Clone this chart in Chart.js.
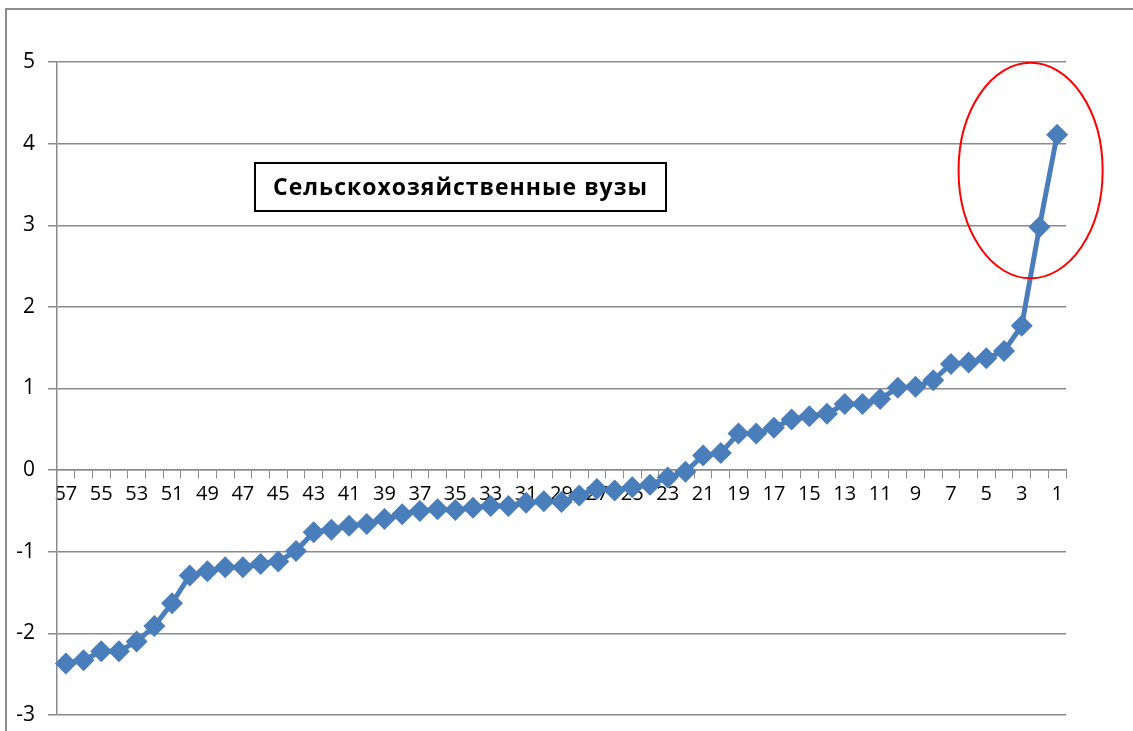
<!DOCTYPE html>
<html>
<head>
<meta charset="utf-8">
<script src="https://cdn.jsdelivr.net/npm/chart.js@4/dist/chart.umd.min.js"></script>
<style>
    html, body { margin: 0; padding: 0; background: #fff; }
    #wrap { width: 1133px; height: 731px; position: relative; }
</style>
</head>
<body>
<div id="wrap"><canvas id="chart"></canvas></div>
<script>
// categories run from 57 down to 1, as on the source chart
const categories = [
    "57", "56", "55", "54", "53", "52", "51", "50", "49", "48",
    "47", "46", "45", "44", "43", "42", "41", "40", "39", "38",
    "37", "36", "35", "34", "33", "32", "31", "30", "29", "28",
    "27", "26", "25", "24", "23", "22", "21", "20", "19", "18",
    "17", "16", "15", "14", "13", "12", "11", "10", "9", "8",
    "7", "6", "5", "4", "3", "2", "1"
];

const scores = [
    -2.37, -2.33, -2.22, -2.22, -2.10, -1.91, -1.63, -1.29, -1.24, -1.19,
    -1.19, -1.15, -1.12, -0.99, -0.76, -0.73, -0.68, -0.66, -0.60, -0.54,
    -0.50, -0.48, -0.49, -0.46, -0.44, -0.44, -0.40, -0.38, -0.39, -0.31,
    -0.23, -0.25, -0.21, -0.18, -0.09, -0.02, 0.18, 0.21, 0.45, 0.45,
    0.52, 0.62, 0.66, 0.69, 0.81, 0.81, 0.87, 1.01, 1.02, 1.10,
    1.30, 1.32, 1.37, 1.46, 1.77, 2.98, 4.11
];

const yTicks = [-3, -2, -1, 0, 1, 2, 3, 4, 5];

const boxTitle = "Сельскохозяйственные вузы";

// red ellipse around the two top points (category index / value units)
const highlight = { cx: 54.5, cy: 3.67, rx: 4.07, ry: 1.32 };

const lineColor = "#4A7EBB";
const gridColor = "#8a8a8a";

const decorPlugin = {
    id: "decor",
    beforeDraw(chart) {
        const ctx = chart.ctx;
        ctx.save();
        ctx.fillStyle = "#fff";
        ctx.fillRect(0, 0, chart.width, chart.height);
        // outer frame (only top and left edges are visible)
        ctx.strokeStyle = "#8c8c8c";
        ctx.lineWidth = 2;
        ctx.beginPath();
        ctx.moveTo(6, chart.height);
        ctx.lineTo(6, 9);
        ctx.lineTo(chart.width, 9);
        ctx.stroke();
        ctx.restore();
    },
    afterDatasetsDraw(chart) {
        const ctx = chart.ctx;
        const xs = chart.scales.x;
        const ys = chart.scales.y;

        // text box
        ctx.save();
        ctx.font = "bold 23px 'Open Sans', sans-serif";
        ctx.letterSpacing = "1px";
        const bx = 255, by = 163, bw = 411, bh = 48;
        ctx.fillStyle = "#fff";
        ctx.fillRect(bx, by, bw, bh);
        ctx.strokeStyle = "#000";
        ctx.lineWidth = 2;
        ctx.strokeRect(bx, by, bw, bh);
        ctx.fillStyle = "#000";
        ctx.textBaseline = "middle";
        ctx.textAlign = "center";
        ctx.fillText(boxTitle, bx + bw / 2, by + bh / 2 + 1);
        ctx.restore();

        // highlight ellipse
        const step = xs.getPixelForValue(1) - xs.getPixelForValue(0);
        const cx = xs.getPixelForValue(0) + step * highlight.cx;
        const cy = ys.getPixelForValue(highlight.cy);
        const rx = step * highlight.rx;
        const ry = Math.abs(ys.getPixelForValue(0) - ys.getPixelForValue(highlight.ry));
        ctx.save();
        ctx.strokeStyle = "#ff0000";
        ctx.lineWidth = 2;
        ctx.beginPath();
        ctx.ellipse(cx, cy, rx, ry, 0, 0, Math.PI * 2);
        ctx.stroke();
        ctx.restore();
    },
};

const ctx = document.getElementById("chart").getContext("2d");

new Chart(ctx, {
    type: "line",
    data: {
        labels: categories,
        datasets: [
            {
                data: scores,
                borderColor: lineColor,
                backgroundColor: lineColor,
                borderWidth: 5,
                pointStyle: "rectRot",
                pointRadius: 11,
                pointHoverRadius: 11,
                pointBorderWidth: 0,
                tension: 0,
                clip: false,
            },
        ],
    },
    options: {
        responsive: true,
        maintainAspectRatio: false,
        animation: false,
        layout: {
            padding: { left: 0, right: 67, top: 62, bottom: 16 },
        },
        plugins: {
            legend: { display: false },
            tooltip: { enabled: false },
        },
        scales: {
            x: {
                position: { y: 0 },
                offset: true,
                grid: {
                    offset: true,
                    drawOnChartArea: false,
                    drawTicks: true,
                    tickLength: 8,
                    color: gridColor,
                },
                border: { display: true, color: gridColor, width: 1.5 },
                ticks: {
                    autoSkip: false,
                    maxRotation: 0,
                    padding: 4,
                    color: "#000",
                    font: { family: "'Open Sans', sans-serif", size: 20 },
                    callback: function (value, index) {
                        return index % 2 === 0 ? categories[index] : "";
                    },
                },
            },
            y: {
                min: -3,
                max: 5,
                afterFit: function (scale) {
                    scale.width = 57;
                    scale.paddingTop = 0;
                    scale.paddingBottom = 0;
                },
                afterBuildTicks: function (scale) {
                    scale.ticks = yTicks.map((v) => ({ value: v }));
                },
                grid: {
                    color: gridColor,
                    lineWidth: 1.5,
                    tickLength: 9,
                },
                border: { display: true, color: gridColor, width: 1.5 },
                ticks: {
                    padding: 13,
                    color: "#000",
                    font: { family: "'Open Sans', sans-serif", size: 21 },
                },
            },
        },
    },
    plugins: [decorPlugin],
});
</script>
</body>
</html>
